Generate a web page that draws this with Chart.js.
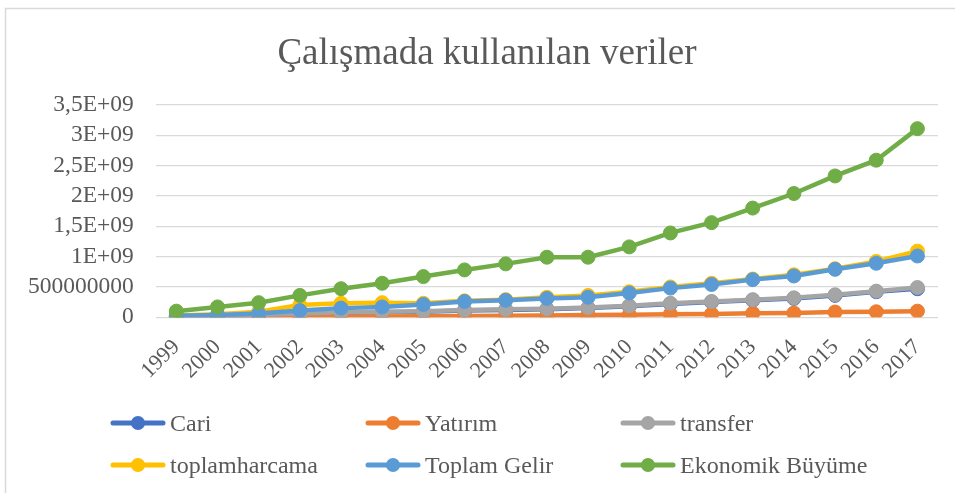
<!DOCTYPE html>
<html>
<head>
<meta charset="utf-8">
<script src="https://cdn.jsdelivr.net/npm/chart.js@4"></script>
<style>
  html, body { margin: 0; padding: 0; background: #fff; }
  #wrap { position: relative; width: 955px; height: 493px; overflow: hidden; }
  #title { position: absolute; left: 0; top: 30px; width: 974px; text-align: center;
           font-family: 'Liberation Serif', 'Times New Roman', serif; font-size: 37px; line-height: 44px;
           color: #595959; white-space: nowrap; }
  #legend { position: absolute; left: 0; top: 0; width: 955px; height: 493px; pointer-events: none;
            font-family: 'Liberation Serif', 'Times New Roman', serif; font-size: 24px; color: #595959; }
  .item { position: absolute; display: flex; align-items: center; height: 28px; white-space: nowrap; }
  .item svg { margin-right: 4px; }
</style>
</head>
<body>
<div id="wrap">
  <canvas id="myChart" width="955" height="493"></canvas>
  <div id="title">Çalışmada kullanılan veriler</div>
  <div id="legend"></div>
</div>
<script>
const years = ['1999','2000','2001','2002','2003','2004','2005','2006','2007','2008',
  '2009','2010','2011','2012','2013','2014','2015','2016','2017'];

const cari = [0.8e7, 1.5e7, 3.0e7, 5.0e7, 7.0e7, 8.0e7, 9.0e7, 1.1e8, 1.2e8, 1.3e8,
  1.5e8, 1.8e8, 2.2e8, 2.5e8, 2.8e8, 3.1e8, 3.6e8, 4.2e8, 4.7e8];
const yatirim = [0.3e7, 0.4e7, 0.6e7, 0.8e7, 1.0e7, 1.2e7, 1.5e7, 2.0e7, 2.5e7, 3.0e7,
  3.5e7, 4.0e7, 5.0e7, 5.5e7, 6.5e7, 7.0e7, 8.5e7, 9.0e7, 1.0e8];
const transfer = [1.0e7, 2.0e7, 4.0e7, 6.0e7, 8.0e7, 9.0e7, 1.0e8, 1.2e8, 1.3e8, 1.4e8,
  1.6e8, 1.9e8, 2.3e8, 2.6e8, 2.9e8, 3.2e8, 3.7e8, 4.3e8, 4.9e8];
const toplamHarcama = [3.0e7, 5.0e7, 9.0e7, 2.0e8, 2.3e8, 2.4e8, 2.3e8, 2.7e8, 2.9e8, 3.3e8,
  3.6e8, 4.2e8, 5.0e8, 5.6e8, 6.3e8, 7.0e8, 8.0e8, 9.2e8, 1.09e9];
const toplamGelir = [2.5e7, 3.5e7, 6.0e7, 1.1e8, 1.5e8, 1.7e8, 2.1e8, 2.6e8, 2.8e8, 3.1e8,
  3.3e8, 4.0e8, 4.8e8, 5.4e8, 6.2e8, 6.8e8, 7.9e8, 8.9e8, 1.01e9];
const buyume = [1.0e8, 1.7e8, 2.4e8, 3.6e8, 4.7e8, 5.6e8, 6.7e8, 7.8e8, 8.8e8, 9.9e8,
  9.9e8, 1.16e9, 1.39e9, 1.56e9, 1.80e9, 2.04e9, 2.33e9, 2.59e9, 3.11e9];

const yTicks = ['0', '500000000', '1E+09', '1,5E+09', '2E+09', '2,5E+09', '3E+09', '3,5E+09'];

const series = [
  { label: 'Cari', data: cari, color: '#4472C4' },
  { label: 'Yatırım', data: yatirim, color: '#ED7D31' },
  { label: 'transfer', data: transfer, color: '#A5A5A5' },
  { label: 'toplamharcama', data: toplamHarcama, color: '#FFC000' },
  { label: 'Toplam Gelir', data: toplamGelir, color: '#5B9BD5' },
  { label: 'Ekonomik Büyüme', data: buyume, color: '#70AD47' },
];

const font = "'Liberation Serif', 'Times New Roman', serif";
const textColor = '#595959';

// outer frame of the chart box
const frame = {
  id: 'frame',
  beforeDraw(chart) {
    const c = chart.ctx;
    c.save();
    c.fillStyle = '#fff';
    c.fillRect(0, 0, chart.width, chart.height);
    c.strokeStyle = '#d9d9d9';
    c.lineWidth = 1.5;
    c.strokeRect(5.5, 8.5, chart.width + 10, chart.height + 10);
    c.restore();
  }
};

const ctx = document.getElementById('myChart').getContext('2d');
const myChart = new Chart(ctx, {
  type: 'line',
  data: {
    labels: years,
    datasets: series.map((s, i) => ({
      label: s.label,
      data: s.data,
      borderColor: s.color,
      backgroundColor: s.color,
      pointBackgroundColor: s.color,
      pointBorderColor: s.color,
      borderWidth: 4.5,
      pointRadius: 7,
      pointBorderWidth: 1,
      tension: 0,
      order: series.length - i,
    })),
  },
  options: {
    responsive: false,
    animation: false,
    layout: { padding: { left: 6, right: 17, top: 105, bottom: 100 } },
    plugins: {
      legend: { display: false },
      tooltip: { enabled: false },
      title: { display: false },
    },
    scales: {
      x: {
        offset: true,
        grid: { display: false },
        border: { display: false },
        ticks: {
          color: textColor,
          font: { family: font, size: 22 },
          autoSkip: false,
          minRotation: 45,
          maxRotation: 45,
          padding: 9,
        },
      },
      y: {
        min: 0,
        max: 3.5e9,
        border: { display: false },
        grid: { color: '#d9d9d9', lineWidth: 1.3, drawTicks: false },
        ticks: {
          stepSize: 5e8,
          autoSkip: false,
          color: textColor,
          font: { family: font, size: 23.5 },
          padding: 22,
          callback: (v) => yTicks[Math.round(v / 5e8)],
        },
      },
    },
  },
  plugins: [frame],
});

// legend in three equal columns
const legend = document.getElementById('legend');
const colX = [110, 365, 620];
const rowY = [409, 451];
series.forEach((s, i) => {
  const el = document.createElement('div');
  el.className = 'item';
  el.style.left = colX[i % 3] + 'px';
  el.style.top = rowY[Math.floor(i / 3)] + 'px';
  el.innerHTML = '<svg width="56" height="16"><line x1="3" y1="8" x2="53" y2="8" stroke="' + s.color +
    '" stroke-width="5" stroke-linecap="round"/><circle cx="28" cy="8" r="7" fill="' + s.color + '"/></svg>' +
    '<span>' + s.label + '</span>';
  legend.appendChild(el);
});
</script>
</body>
</html>
